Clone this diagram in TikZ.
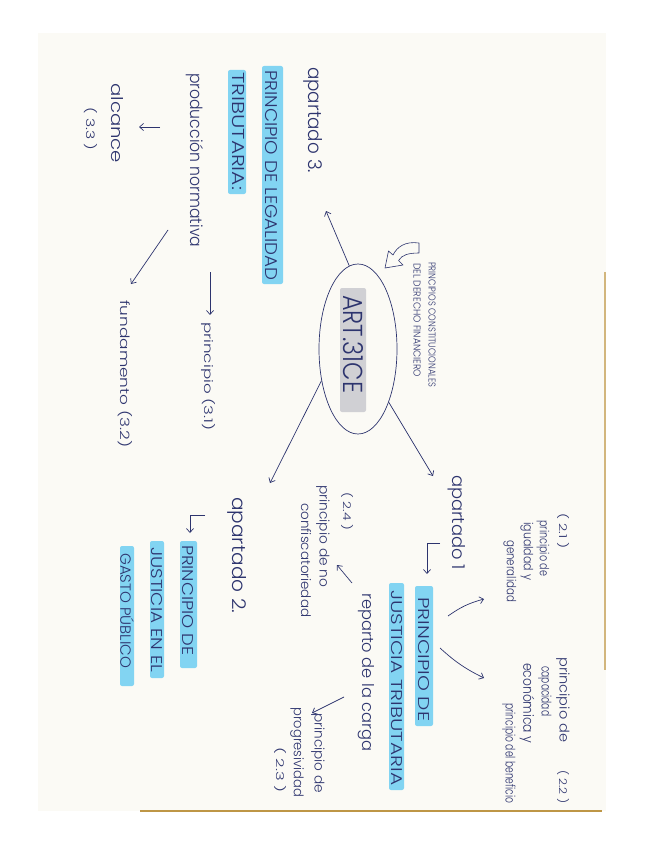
\documentclass[tikz,border=0pt]{standalone}
\usepackage{fontspec}
\setmainfont{Poppins}[UprightFont=* Light]
\usepackage{graphicx}
\usetikzlibrary{shapes.geometric,arrows.meta}
\definecolor{ink}{RGB}{45,52,110}
\definecolor{hl}{RGB}{130,212,242}
\definecolor{hlgray}{RGB}{208,208,212}
\definecolor{paper}{RGB}{251,250,245}
\definecolor{edge}{RGB}{190,150,70}
\newcommand{\fh}[3]{\resizebox{#1pt}{#2pt}{#3}}
\begin{document}
\begin{tikzpicture}[x=1pt,y=-1pt,
  lbl/.style={rotate=-90,anchor=west,inner sep=0pt,text=ink},
  band/.style={fill=hl,rounded corners=2pt},
  conn/.style={draw=ink,line width=0.7pt,-{Straight Barb[length=4pt,width=7pt]}},
  oval/.style={draw=ink,line width=0.7pt,ellipse,inner sep=0pt}
]
\useasboundingbox (0,0) rectangle (655,848);
\fill[white] (0,0) rectangle (655,848);
\fill[paper] (38,33) rectangle (606,811);
\draw[edge, line width=2pt] (140,811) -- (602,811);
\draw[edge!70, line width=1.2pt] (605,272) -- (605,670);

% highlight bands
\fill[band] (262,66) rectangle (283,284);
\fill[band] (228,70) rectangle (246,194);
\fill[band] (180,541) rectangle (197,668);
\fill[band] (150,541) rectangle (164,678);
\fill[band] (120,546) rectangle (134,686);
\fill[band] (415,586) rectangle (433,726);
\fill[band] (389,583) rectangle (404,790);
\fill[hlgray, rounded corners=2pt] (340,288) rectangle (366,412);

% centre
\node[oval, minimum width=78pt, minimum height=170pt] (art) at (358,349) {};
\node[lbl] (tart) at (353,295) {\fh{98}{20}{ART.31CE}};
\node[lbl] (pc1) at (432,262) {\fh{125}{7}{PRINCIPIOS CONSTITUCIONALES}};
\node[lbl] (pc2) at (417,263) {\fh{114}{7}{DEL DERECHO FINANCIERO}};
\draw[ink, line width=0.6pt, line join=round] (419,243) .. controls (405,241) and (397,247) .. (393,255) -- (388.5,251) -- (385,268) -- (403,265) -- (398.5,260.5) .. controls (402,255) and (408,253) .. (419,253) -- cycle;

% apartado 3
\node[lbl] (ap3) at (313,67) {\fh{106}{14}{apartado 3.}};
\node[lbl] (leg1) at (271,70) {\fh{210}{12}{PRINCIPIO DE LEGALIDAD}};
\node[lbl] (leg2) at (238,72) {\fh{118}{12}{TRIBUTARIA:}};
\node[lbl] (prod) at (195,73) {\fh{174}{13}{producción normativa}};
\node[lbl] (alc) at (117,83) {\fh{80}{12}{alcance}};
\node[lbl] (t33) at (91,107) {\fh{43}{11}{( 3.3 )}};
\node[lbl] (pri31) at (208,322) {\fh{108}{11}{principio (3.1)}};
\node[lbl] (fund) at (125,300) {\fh{147}{12}{fundamento (3.2)}};

% apartado 2
\node[lbl] (ap2) at (237,497) {\fh{116}{14}{apartado 2.}};
\node[lbl] (j1) at (188,545) {\fh{110}{11}{PRINCIPIO DE}};
\node[lbl] (j2) at (157,547) {\fh{125}{11}{JUSTICIA EN EL}};
\node[lbl] (j3) at (127,553) {\fh{115}{13.5}{GASTO PÚBLICO}};

% apartado 1
\node[lbl] (ap1) at (457,475) {\fh{95}{13}{apartado 1}};
\node[lbl] (jt1) at (424,597) {\fh{124}{11}{PRINCIPIO DE}};
\node[lbl] (jt2) at (397,590) {\fh{195}{11}{JUSTICIA TRIBUTARIA}};
\node[lbl] (rep) at (366,593) {\fh{158}{12}{reparto de la carga}};
\node[lbl] (t24) at (347,492) {\fh{38}{10}{( 2.4 )}};
\node[lbl] (nc1) at (323,485) {\fh{102}{10}{principio de no}};
\node[lbl] (nc2) at (306,503) {\fh{114}{10}{confiscatoriedad}};
\node[lbl] (pg1) at (318,713) {\fh{80}{10}{principio de}};
\node[lbl] (pg2) at (297,707) {\fh{90}{10}{progresividad}};
\node[lbl] (t23) at (281,747) {\fh{45}{10}{( 2.3 )}};
\node[lbl] (t21) at (563,513) {\fh{35}{10}{( 2.1 )}};
\node[lbl] (ig1) at (543,520) {\fh{56}{9.5}{principio de}};
\node[lbl] (ig2) at (527,522) {\fh{58}{9.5}{igualdad y}};
\node[lbl] (ig3) at (510,540) {\fh{62}{9.5}{generalidad}};
\node[lbl] (cap1) at (563,657) {\fh{85}{10}{principio de}};
\node[lbl] (t22) at (563,770) {\fh{33}{10}{( 2.2 )}};
\node[lbl] (cap2) at (545,666) {\fh{50}{10}{capacidad}};
\node[lbl] (cap3) at (527,663) {\fh{80}{11}{económica y}};
\node[lbl] (cap4) at (509,703) {\fh{100}{10}{principio del beneficio}};

% connectors
\coordinate (a3tip) at (326,211);
\coordinate (a2tip) at (270,483);
\coordinate (a1tip) at (433,476);
\draw[conn] (art.96) -- (a3tip);
\draw[conn] (art.221) -- (a2tip);
\draw[conn] (art.300) -- (a1tip);

\coordinate (alA) at (160,127); \coordinate (alB) at (139,127);
\draw[conn] (alA) -- (alB);
\coordinate (ckA) at (168,230); \coordinate (ckB) at (131,284);
\draw[conn] (ckA) -- (ckB);
\coordinate (p31A) at (210,272); \coordinate (p31B) at (210,315);
\draw[conn] (p31A) -- (p31B);
\coordinate (h2A) at (205,515); \coordinate (h2B) at (190,533);
\draw[conn] (h2A) -| (h2B);
\coordinate (h1A) at (440,543); \coordinate (h1B) at (427,574);
\draw[conn] (h1A) -| (h1B);
\coordinate (rnA) at (352,583); \coordinate (rnB) at (337,565);
\draw[conn] (rnA) -- (rnB);
\coordinate (rpA) at (344,697); \coordinate (rpB) at (312,713);
\draw[conn] (rpA) -- (rpB);
\coordinate (igA) at (448,616); \coordinate (igB) at (484,599);
\draw[conn] (igA) to[bend left=10] (igB);
\coordinate (cpA) at (440,648); \coordinate (cpB) at (484,678);
\draw[conn] (cpA) to[bend right=8] (cpB);
\end{tikzpicture}
\end{document}
